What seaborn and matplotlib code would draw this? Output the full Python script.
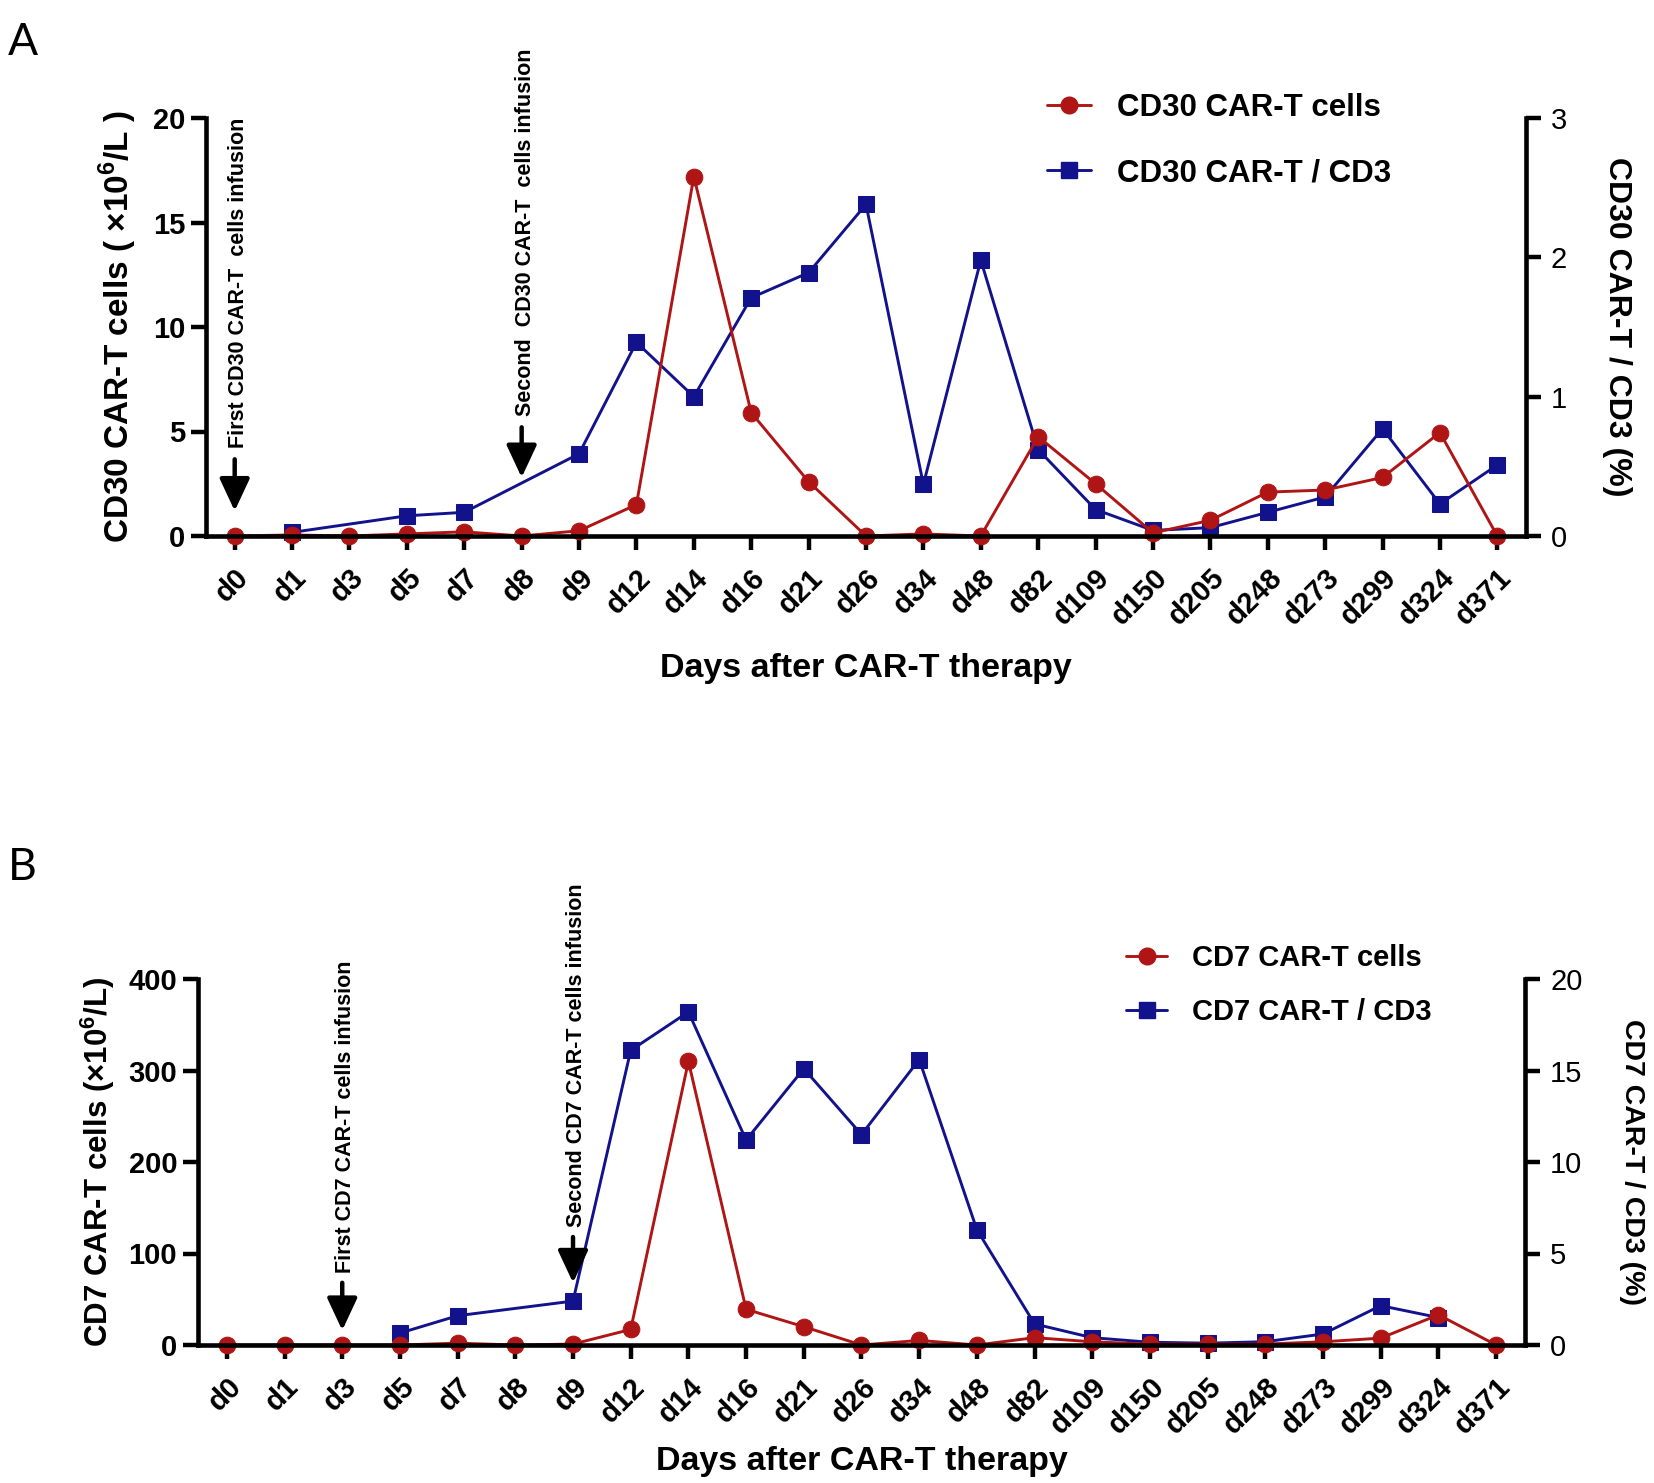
import numpy as np
import pandas as pd
import matplotlib
matplotlib.use("Agg")
import matplotlib.pyplot as plt
import seaborn as sns
from matplotlib.lines import Line2D

# ---------------------------
# Data
# ---------------------------
days = ["d0", "d1", "d3", "d5", "d7", "d8", "d9", "d12", "d14", "d16", "d21",
        "d26", "d34", "d48", "d82", "d109", "d150", "d205", "d248", "d273",
        "d299", "d324", "d371"]

# panel A
cd30_cells = [0, 0.05, 0, 0.1, 0.2, 0, 0.25, 1.5, 17.2, 5.9, 2.6, 0, 0.1, 0,
              4.75, 2.5, 0.15, 0.75, 2.1, 2.2, 2.8, 4.95, 0]
cd30_ratio = [np.nan, 0.026, np.nan, 0.145, 0.17, np.nan, 0.59, 1.39, 1.0, 1.71, 1.89,
              2.38, 0.37, 1.98, 0.62, 0.19, 0.04, 0.06, 0.17, 0.28, 0.77, 0.23, 0.51]

# panel B
cd7_cells = [0, 0, 0, 0, 2, 0, 1, 17, 310, 39, 20, 0, 5, 0, 8, 3.5, 1, 1, 1,
             3.5, 7.5, 33, 0]
cd7_ratio = [np.nan, np.nan, np.nan, 0.65, 1.6, np.nan, 2.4, 16.1, 18.2, 11.2, 15.1,
             11.5, 15.6, 6.3, 1.15, 0.4, 0.15, 0.1, 0.18, 0.6, 2.15, 1.5, np.nan]

RED = "#B01515"
BLUE = "#12128C"

sns.set_theme(style="ticks")
plt.rcParams["font.family"] = ["Liberation Sans", "DejaVu Sans"]
plt.rcParams.update({
    "axes.linewidth": 3.3,
    "text.color": "black",
    "axes.labelcolor": "black",
    "axes.edgecolor": "black",
    "xtick.color": "black",
    "ytick.color": "black",
    "mathtext.fontset": "custom",
    "mathtext.rm": "Liberation Sans",
    "mathtext.bf": "Liberation Sans:bold",
})

W, H = 1654, 1483


def draw_panel(fig, box, cells, ratio, ymax_l, yticks_l, ymax_r, yticks_r,
               ylabel_l, ylabel_r, names, arrows, leg, sizes):
    x0, x1, y0, y1 = box  # pixel box of the axes
    rect = [x0 / W, 1 - y1 / H, (x1 - x0) / W, (y1 - y0) / H]
    df = pd.DataFrame({"pos": np.arange(len(days)), "cells": cells, "ratio": ratio})
    ax1 = fig.add_axes(rect)
    ax2 = ax1.twinx()
    # red series drawn on top of the blue one
    ax1.set_zorder(ax2.get_zorder() + 1)
    ax1.patch.set_visible(False)

    sns.lineplot(data=df.dropna(subset=["ratio"]), x="pos", y="ratio", ax=ax2,
                 color=BLUE, marker="s", markersize=11.5, markeredgecolor=BLUE,
                 linewidth=2.1, estimator=None, clip_on=False)
    sns.lineplot(data=df, x="pos", y="cells", ax=ax1,
                 color=RED, marker="o", markersize=12, markeredgecolor=RED,
                 linewidth=2.1, estimator=None, clip_on=False)

    ax1.set_xlim(-0.5, len(days) - 0.5)
    ax1.set_ylim(0, ymax_l)
    ax2.set_ylim(0, ymax_r)
    ax1.set_yticks(yticks_l)
    ax2.set_yticks(yticks_r)
    ax1.set_xticks(df["pos"])
    ax1.set_xticklabels(days, rotation=45, ha="right", rotation_mode="anchor",
                        fontsize=21, fontweight="bold")
    for t in ax1.get_yticklabels():
        t.set_fontsize(21)
        t.set_fontweight("bold")
    for t in ax2.get_yticklabels():
        t.set_fontsize(21)

    ax1.tick_params(axis="y", width=3.2, length=11, pad=4)
    ax1.tick_params(axis="x", width=3.2, length=10, pad=10)
    ax2.tick_params(axis="y", width=3.2, length=11, pad=7)

    for s in ["top", "right"]:
        ax1.spines[s].set_visible(False)
    for s in ["top", "left", "bottom"]:
        ax2.spines[s].set_visible(False)

    fs_x, fs_l, fs_r, fs_leg = sizes
    ax1.set_xlabel("Days after CAR-T therapy", fontsize=fs_x, fontweight="bold")
    ax1.xaxis.set_label_coords(0.5, -0.317)
    ax1.xaxis.label.set_verticalalignment("center")
    ax1.set_ylabel(ylabel_l, fontsize=fs_l, fontweight="bold")
    ax1.yaxis.set_label_coords(leg["ylx"], 0.5)
    ax1.yaxis.label.set_verticalalignment("center")
    ax2.set_ylabel(ylabel_r, fontsize=fs_r, fontweight="bold", rotation=-90)
    ax2.yaxis.set_label_coords(leg["yrx"], 0.5)
    ax2.yaxis.label.set_verticalalignment("center")

    # infusion arrows
    for xpos, ya, yb, label in arrows:
        ax1.annotate("", xy=(xpos, yb), xytext=(xpos, ya),
                     arrowprops=dict(arrowstyle="-|>,head_length=0.6,head_width=0.28",
                                     color="black", lw=3.2, mutation_scale=33,
                                     shrinkA=0, shrinkB=0))
        ax1.text(xpos + 0.06, ya + 0.027 * ymax_l, label, rotation=90, ha="center",
                 va="bottom", fontsize=15.5, fontweight="bold", clip_on=False)

    handles = [Line2D([], [], color=RED, marker="o", markersize=12, lw=2.1),
               Line2D([], [], color=BLUE, marker="s", markersize=11.5, lw=2.1)]
    ax1.legend(handles, names, loc="upper left", bbox_to_anchor=leg["anchor"],
               bbox_transform=fig.transFigure, frameon=False,
               prop={"size": fs_leg, "weight": "bold"}, handlelength=1.4,
               labelspacing=leg["spacing"], handletextpad=0.85,
               borderpad=0, borderaxespad=0)
    return ax1, ax2


fig = plt.figure(figsize=(W / 100, H / 100), dpi=100)

draw_panel(fig, (206, 1526, 118, 536), cd30_cells, cd30_ratio,
           20, [0, 5, 10, 15, 20], 3, [0, 1, 2, 3],
           r"CD30 CAR-T cells ( ×10$^{\mathbf{6}}$/L )", "CD30 CAR-T / CD3 (%)",
           ["CD30 CAR-T cells", "CD30 CAR-T / CD3"],
           [(0, 3.67, 1.2, "First CD30 CAR-T  cells infusion"),
            (5, 5.2, 2.8, "Second  CD30 CAR-T  cells infusion")],
           {"anchor": (0.633, 0.937), "spacing": 1.12, "ylx": -0.067, "yrx": 1.069},
           (24.5, 24, 23, 22.5))

draw_panel(fig, (198, 1525, 979, 1345), cd7_cells, cd7_ratio,
           400, [0, 100, 200, 300, 400], 20, [0, 5, 10, 15, 20],
           r"CD7 CAR-T cells (×10$^{\mathbf{6}}$/L)", "CD7 CAR-T / CD3 (%)",
           ["CD7 CAR-T cells", "CD7 CAR-T / CD3"],
           [(2, 68, 16, "First CD7 CAR-T cells infusion"),
            (6, 118, 68, "Second CD7 CAR-T cells infusion")],
           {"anchor": (0.681, 0.3635), "spacing": 0.9, "ylx": -0.0754, "yrx": 1.081},
           (24.5, 22.5, 20.5, 21))

fig.text(0.005, 0.985, "A", fontsize=32, family=["Lato", "DejaVu Sans"], va="top")
fig.text(0.005, 0.429, "B", fontsize=32, family=["Lato", "DejaVu Sans"], va="top")

fig.savefig("out.png", dpi=100)
